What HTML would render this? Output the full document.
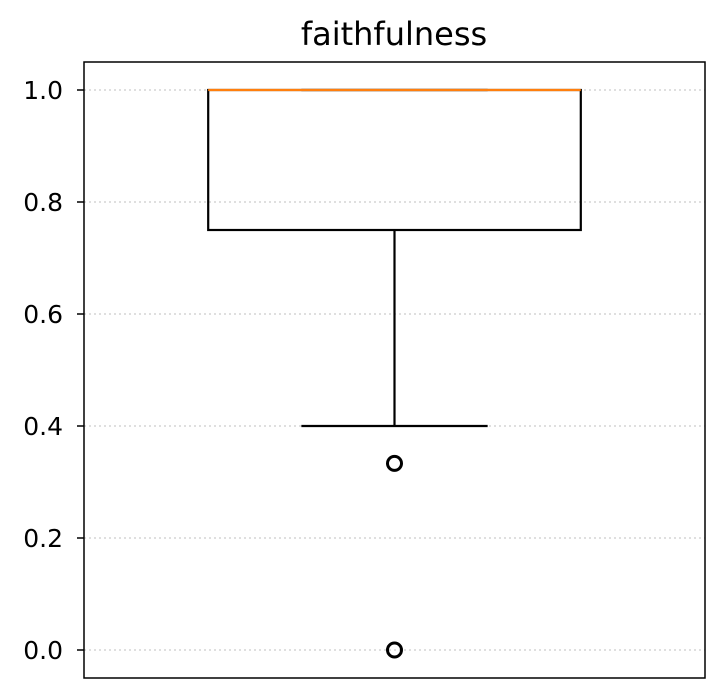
<!DOCTYPE html>
<html><head><meta charset="utf-8"><style>
html,body{margin:0;padding:0;background:#fff;}
svg{display:block;font-family:"DejaVu Sans","Liberation Sans",sans-serif;}
</style></head><body>
<svg id="chart" width="723" height="698" viewBox="0 0 723 698">
<rect x="0" y="0" width="723" height="698" fill="#fff"/>
<text x="394" y="45" font-size="32" text-anchor="middle" fill="#000">faithfulness</text>
<g id="grid"></g>
<g id="ticks"></g>
<g id="marks"></g>
<rect x="84" y="62" width="621" height="616" fill="none" stroke="#000" stroke-width="1.5"/>
</svg>
<script>
const yTicks = [0.0, 0.2, 0.4, 0.6, 0.8, 1.0];
const yTickLabels = ["0.0", "0.2", "0.4", "0.6", "0.8", "1.0"];
const q1 = [0.75];
const q3 = [1.0];
const median = [1.0];
const whiskerLow = [0.4];
const whiskerHigh = [1.0];
const outliers = [0.3333, 0.0];

const NS = "http://www.w3.org/2000/svg";
function y(v){ return 650 - v * 560; }
function x(p){ return 84 + p * 621; }
function mk(tag, attrs, parent){
  const e = document.createElementNS(NS, tag);
  for (const k in attrs) e.setAttribute(k, attrs[k]);
  document.getElementById(parent).appendChild(e);
  return e;
}
yTicks.forEach((t,i)=>{
  const g = mk("line",{x1:84,x2:705,y1:y(t),y2:y(t),stroke:"#ccc","stroke-width":1.2,"stroke-dasharray":"2,3"},"grid");
  
  
  const tk = mk("line",{x1:77,x2:84,y1:y(t),y2:y(t),stroke:"#000","stroke-width":1.5},"ticks");
  
  
  const lb = mk("text",{x:63,y:y(t)+9,"font-size":25,"text-anchor":"end",fill:"#000"},"ticks");
  lb.textContent = yTickLabels[i];
  
  
});
const cx = x(0.5), bl = x(0.2), br = x(0.8), cl = x(0.35), cr = x(0.65);
const box = mk("rect",{x:bl,y:y(q3[0]),width:br-bl,height:y(q1[0])-y(q3[0]),fill:"none",stroke:"#000","stroke-width":2.2},"marks");


const wl = mk("line",{x1:cx,x2:cx,y1:y(q1[0]),y2:y(whiskerLow[0]),stroke:"#000","stroke-width":2.2},"marks");


const cap = mk("line",{x1:cl,x2:cr,y1:y(whiskerLow[0]),y2:y(whiskerLow[0]),stroke:"#000","stroke-width":2.2},"marks");


const capH = mk("line",{x1:cl,x2:cr,y1:y(whiskerHigh[0]),y2:y(whiskerHigh[0]),stroke:"#000","stroke-width":2.2},"marks");


const med = mk("line",{x1:bl,x2:br,y1:y(median[0]),y2:y(median[0]),stroke:"#ff7f0e","stroke-width":2.2},"marks");


outliers.forEach(v=>{
  const c = mk("circle",{cx:cx,cy:y(v),r:7,fill:"none",stroke:"#000","stroke-width":3},"marks");
  
  
});
</script>
</body></html>
